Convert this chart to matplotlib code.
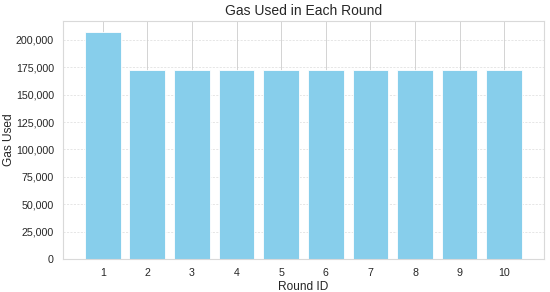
import matplotlib
matplotlib.use("Agg")
import matplotlib.pyplot as plt
import seaborn as sns
from matplotlib.ticker import FuncFormatter

rounds = [1, 2, 3, 4, 5, 6, 7, 8, 9, 10]
gas_used = [206900, 172300, 172300, 172300, 172300, 172300, 172300, 172300, 172300, 172300]

sns.set_style("whitegrid")
plt.rcParams['font.family'] = ['Liberation Sans', 'DejaVu Sans']

fig = plt.figure(figsize=(5.5, 2.92), dpi=100)
ax = fig.add_axes([0.1145, 0.113, 0.8745, 0.815])
ax.bar(rounds, gas_used, color='skyblue', width=0.8, edgecolor='white', linewidth=0.6)
ax.set_xticks(rounds)
ax.yaxis.set_major_formatter(FuncFormatter(lambda v, p: f"{int(v):,}"))
ax.grid(axis='x', linewidth=0.6, color='.8')
ax.grid(axis='y', linestyle=(0, (3, 2)), linewidth=0.5, alpha=0.7, color='.8')
ax.tick_params(labelsize=7.7, colors='.15', pad=3)
ax.set_xlabel("Round ID", fontsize=8.6, color='.15', labelpad=2)
ax.set_ylabel("Gas Used", fontsize=8.6, color='.15', labelpad=0.5)
ax.set_title("Gas Used in Each Round", fontsize=10, color='.15', pad=4)
for s in ax.spines.values():
    s.set_color('.85')
    s.set_linewidth(0.8)
fig.savefig("out.png", dpi=100)
